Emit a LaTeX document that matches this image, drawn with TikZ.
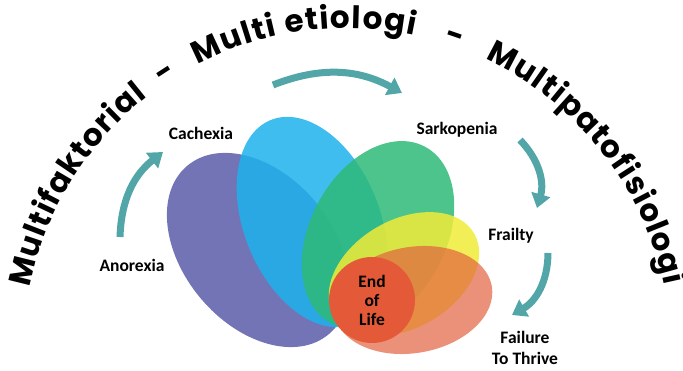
\documentclass[tikz,border=0pt]{standalone}
\usepackage{fontspec}
\setmainfont{Carlito}
\newfontfamily\arcfont{Poppins}
\usetikzlibrary{arrows.meta,calc,decorations.text}

\definecolor{purpleblob}{RGB}{114,116,182}
\definecolor{blueblob}{RGB}{30,178,236}
\definecolor{greenblob}{RGB}{46,186,120}
\definecolor{yellowblob}{RGB}{240,235,55}
\definecolor{salmonblob}{RGB}{226,99,64}
\definecolor{redblob}{RGB}{228,90,56}
\definecolor{arrowteal}{RGB}{82,166,168}

\newcommand{\arcfmt}{\arcfont\bfseries\fontsize{31}{31}\selectfont}

\begin{document}
\begin{tikzpicture}[
  x=1pt, y=1pt,
  every node/.style={font=\bfseries\fontsize{17.5}{19}\selectfont, align=center},
  blob/.style={draw=none, fill opacity=0.85},
  flow/.style={draw=arrowteal, line width=7pt, -{Triangle[width=19pt,length=14pt]}},
  arcword/.style={decorate, decoration={text along path, text align=#1}},
]
\useasboundingbox (0,0) rectangle (683,371);

% overlapping ellipses
\fill[purpleblob, rotate around={-50:(258,121)}] (258,121) ellipse[x radius=110, y radius=75];
\fill[blob, blueblob, rotate around={-68:(312,149)}] (312,149) ellipse[x radius=110, y radius=68];
\fill[blob, greenblob, rotate around={62:(378,136)}] (378,136) ellipse[x radius=100, y radius=68];
\fill[blob, yellowblob, rotate around={30:(404,97)}] (404,97) ellipse[x radius=81, y radius=54];
\fill[blob, salmonblob, fill opacity=0.7, rotate around={10:(413,71)}] (413,71) ellipse[x radius=80, y radius=53];
\node[circle, fill=redblob, minimum size=86pt, inner sep=0pt] (endlife) at (372,71) {End\\of\\Life};

% stage labels
\node (anorexia) at (132,106) {Anorexia};
\node (cachexia) at (201,238) {Cachexia};
\node (sarkopenia) at (457,241) {Sarkopenia};
\node (frailty) at (511,135) {Frailty};
\node (failure) at (525,23) {Failure\\[2pt]To Thrive};

% cycle arrows
\coordinate (a1s) at (120,134);
\coordinate (a1e) at (163,219);
\coordinate (a2s) at (273,286);
\coordinate (a2e) at (402,278);
\coordinate (a3s) at (520,231);
\coordinate (a3e) at (537,163);
\coordinate (a4s) at (548,118);
\coordinate (a4e) at (512,56);
\draw[flow] (a1s) to[bend left=25] (a1e);
\draw[flow] (a2s) to[bend left=25] (a2e);
\draw[flow] (a3s) to[bend left=30] (a3e);
\draw[flow] (a4s) to[bend left=30] (a4e);

% words on the outer arc
\coordinate (hub) at (347,19);
\path[arcword=fit to path, decoration={text={|\arcfmt|Multifaktorial}}]
  ($(hub)+(168.6:324)$) arc[start angle=168.6, end angle=128, radius=324];
\path[arcword=center, decoration={text={|\arcfmt|-}}]
  ($(hub)+(127:324)$) arc[start angle=127, end angle=119, radius=324];
\path[arcword=fit to path, decoration={text={|\arcfmt|Multi etiologi}}]
  ($(hub)+(117.5:324)$) arc[start angle=117.5, end angle=78, radius=324];
\path[arcword=center, decoration={text={|\arcfmt|-}}]
  ($(hub)+(75:324)$) arc[start angle=75, end angle=67, radius=324];
\path[arcword=fit to path, decoration={text={|\arcfmt|Multipatofisiologi}}]
  ($(hub)+(64.8:324)$) arc[start angle=64.8, end angle=11.8, radius=324];
\end{tikzpicture}
\end{document}
